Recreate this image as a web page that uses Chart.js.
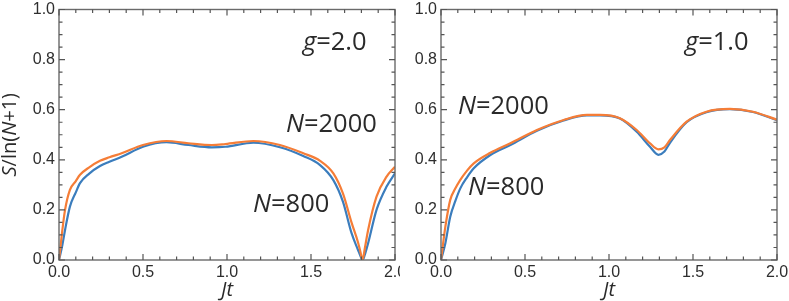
<!DOCTYPE html>
<html><head><meta charset="utf-8">
<script src="https://cdn.jsdelivr.net/npm/chart.js@4"></script>
<style>
html,body{margin:0;padding:0;background:#fff;width:789px;height:301px;overflow:hidden}
#w1{position:absolute;left:0;top:0;width:400px;height:301px}
#w2{position:absolute;left:400px;top:0;width:389px;height:301px}
</style></head><body>
<div id="w1"><canvas id="c1"></canvas></div>
<div id="w2"><canvas id="c2"></canvas></div>
<script>
// ---- data ----
const tLeft      = [0, 0.02, 0.036, 0.065, 0.1, 0.125, 0.18, 0.244, 0.3, 0.373, 0.5, 0.64, 0.77, 0.91, 0.99, 1.157, 1.315, 1.454, 1.554, 1.633, 1.69, 1.742, 1.78, 1.795, 1.807, 1.82, 1.84, 1.89, 1.95, 2.0];
const n2000Left  = [0, 0.12, 0.2, 0.28, 0.315, 0.34, 0.37, 0.396, 0.41, 0.426, 0.459, 0.475, 0.466, 0.459, 0.463, 0.475, 0.459, 0.426, 0.396, 0.346, 0.266, 0.148, 0.07, 0.03, 0, 0.045, 0.12, 0.253, 0.333, 0.372];
const n800Left   = [0, 0.06, 0.12, 0.213, 0.27, 0.307, 0.345, 0.375, 0.392, 0.412, 0.452, 0.47, 0.459, 0.45, 0.452, 0.468, 0.45, 0.415, 0.379, 0.319, 0.233, 0.106, 0.04, 0.015, 0, 0.02, 0.067, 0.2, 0.293, 0.346];

const tRight     = [0, 0.026, 0.055, 0.085, 0.115, 0.155, 0.195, 0.294, 0.413, 0.571, 0.73, 0.869, 0.946, 1.065, 1.165, 1.244, 1.294, 1.33, 1.363, 1.462, 1.58, 1.72, 1.857, 2.0];
const n2000Right = [0, 0.133, 0.24, 0.285, 0.32, 0.357, 0.386, 0.428, 0.466, 0.519, 0.559, 0.579, 0.579, 0.566, 0.519, 0.466, 0.442, 0.45, 0.479, 0.552, 0.592, 0.603, 0.592, 0.56];
const n800Right  = [0, 0.067, 0.173, 0.235, 0.286, 0.33, 0.366, 0.419, 0.459, 0.516, 0.557, 0.577, 0.577, 0.565, 0.512, 0.452, 0.42, 0.433, 0.468, 0.55, 0.59, 0.602, 0.591, 0.558];

const xTickValues = [0, 0.5, 1.0, 1.5, 2.0];
const yTickValues = [0, 0.2, 0.4, 0.6, 0.8, 1.0];
const seriesLabels = ['N=2000', 'N=800'];
const panelLabels = ['g=2.0', 'g=1.0'];

// ---- styling ----
const BLUE = '#3b7dbd', ORANGE = '#f57d37';
const RICHFAMILY = '"Open Sans", "DejaVu Sans", sans-serif';

function drawRich(ctx, segs, x, y, size, align) {
  let total = 0;
  const w = segs.map(s => { ctx.font = (s.i ? 'italic ' : '') + size + 'px ' + RICHFAMILY; const m = ctx.measureText(s.t).width; total += m; return m; });
  let cx = align === 'center' ? x - total / 2 : x;
  ctx.textBaseline = 'middle'; ctx.textAlign = 'left'; ctx.fillStyle = '#2a2a2a';
  segs.forEach((s, k) => { ctx.font = (s.i ? 'italic ' : '') + size + 'px ' + RICHFAMILY; ctx.fillText(s.t, cx, y); cx += w[k]; });
}

function framePlugin(notes, yTitle) {
  return {
    id: 'frame',
    afterDatasetsDraw(chart) {
      const { ctx, chartArea: a, scales: { x, y } } = chart;
      ctx.save();
      ctx.strokeStyle = '#6a6a6a'; ctx.lineWidth = 1.4;
      ctx.strokeRect(a.left, a.top, a.right - a.left, a.bottom - a.top);
      ctx.strokeStyle = '#555'; ctx.lineWidth = 1.2;
      ctx.beginPath();
      for (let k = 0; k <= 20; k++) {
        const px = x.getPixelForValue(k * 0.1), L = k % 5 === 0 ? 6 : 3.5;
        ctx.moveTo(px, a.bottom); ctx.lineTo(px, a.bottom - L);
        ctx.moveTo(px, a.top); ctx.lineTo(px, a.top + L);
      }
      for (let k = 0; k <= 20; k++) {
        const py = y.getPixelForValue(k * 0.05), L = k % 4 === 0 ? 6 : 3.5;
        ctx.moveTo(a.left, py); ctx.lineTo(a.left + L, py);
        ctx.moveTo(a.right, py); ctx.lineTo(a.right - L, py);
      }
      ctx.stroke();
      notes.forEach(n => {
        const lbl = n.text;
        const eq = lbl.indexOf('=');
        drawRich(ctx, [{ t: lbl.slice(0, eq), i: true }, { t: lbl.slice(eq) }],
          x.getPixelForValue(n.x), y.getPixelForValue(n.y), 25.5, 'left');
      });
      drawRich(ctx, [{ t: 'Jt', i: true }], x.getPixelForValue(1.0), 290, 20, 'center');
      if (yTitle) {
        ctx.save();
        ctx.translate(10, (a.top + a.bottom) / 2);
        ctx.rotate(-Math.PI / 2);
        drawRich(ctx, [{ t: 'S', i: true }, { t: '/ln(' }, { t: 'N', i: true }, { t: '+1)' }], 0, 0, 20, 'center');
        ctx.restore();
      }
      ctx.restore();
    }
  };
}

function makeChart(id, t, s2000, s800, yWidth, padRight, notes, yTitle) {
  const pts = arr => t.map((v, i) => ({ x: v, y: arr[i] }));
  return new Chart(document.getElementById(id), {
    type: 'line',
    data: {
      datasets: [
        { label: seriesLabels[0], data: pts(s2000), borderColor: ORANGE, borderWidth: 2.2, pointRadius: 0, cubicInterpolationMode: 'monotone', fill: false },
        { label: seriesLabels[1], data: pts(s800), borderColor: BLUE, borderWidth: 2.2, pointRadius: 0, cubicInterpolationMode: 'monotone', fill: false }
      ]
    },
    options: {
      responsive: true, maintainAspectRatio: false, animation: false,
      layout: { padding: { top: 9.5, right: padRight, left: 0, bottom: 0 } },
      plugins: { legend: { display: false }, tooltip: { enabled: false } },
      scales: {
        x: {
          type: 'linear', min: 0, max: 2,
          grid: { display: false, drawTicks: false }, border: { display: false },
          afterBuildTicks: s => { s.ticks = xTickValues.map(v => ({ value: v })); },
          ticks: { font: { family: '"Liberation Sans", Arial, sans-serif', size: 16 }, color: '#2e2e2e', padding: 3, maxRotation: 0, autoSkip: false, callback: v => Number(v).toFixed(1) },
          afterFit: s => { s.height = 41; s.paddingLeft = 0; s.paddingRight = 0; }
        },
        y: {
          min: 0, max: 1,
          grid: { display: false, drawTicks: false }, border: { display: false },
          afterBuildTicks: s => { s.ticks = yTickValues.map(v => ({ value: v })); },
          ticks: { font: { family: '"Liberation Sans", Arial, sans-serif', size: 16 }, color: '#2e2e2e', padding: 4, autoSkip: false, callback: v => Number(v).toFixed(1) },
          afterFit: s => { s.width = yWidth; s.paddingTop = 0; s.paddingBottom = 0; }
        }
      }
    },
    plugins: [framePlugin(notes, yTitle)]
  });
}

makeChart('c1', tLeft, n2000Left, n800Left, 59, 5, [
  { text: panelLabels[0], x: 1.452, y: 0.866 },
  { text: seriesLabels[0], x: 1.351, y: 0.539 },
  { text: seriesLabels[1], x: 1.155, y: 0.22 }
], true);
makeChart('c2', tRight, n2000Right, n800Right, 41, 12, [
  { text: panelLabels[1], x: 1.452, y: 0.866 },
  { text: seriesLabels[0], x: 0.101, y: 0.611 },
  { text: seriesLabels[1], x: 0.161, y: 0.287 }
], false);
</script>
</body></html>
